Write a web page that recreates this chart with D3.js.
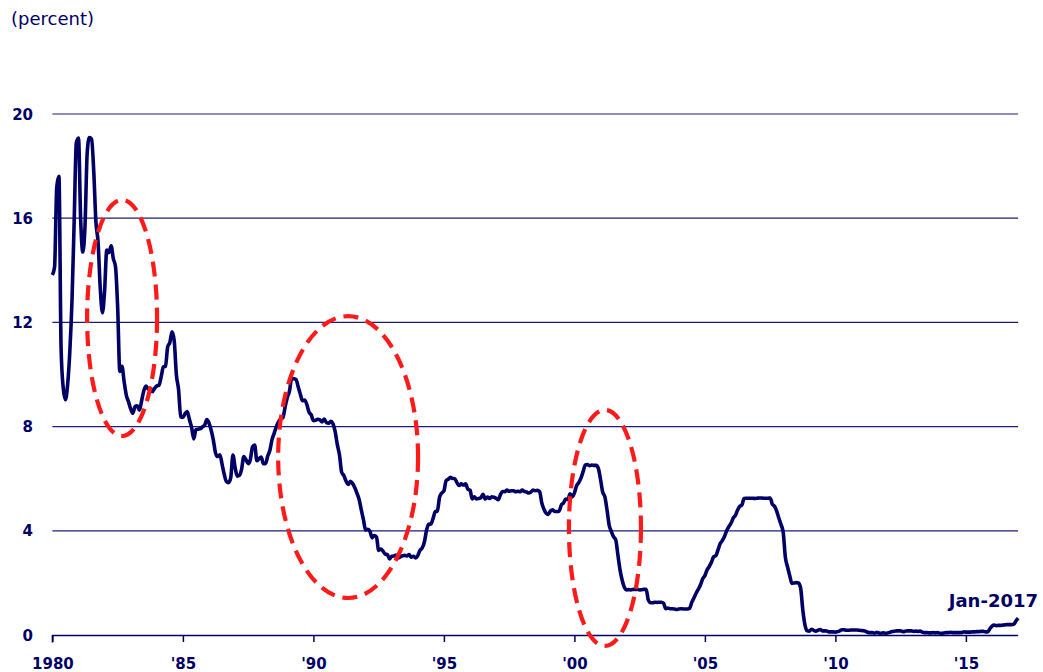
<!DOCTYPE html>
<html>
<head>
<meta charset="utf-8">
<script src="https://cdn.jsdelivr.net/npm/d3@7"></script>
<style>
  body { margin: 0; background: #fff; }
  text { font-family: "DejaVu Sans", Verdana, sans-serif; }
</style>
</head>
<body>
<script>
// effective fed funds rate, monthly, Jan 1980 .. Jan 2017
var rates1980s = [
  13.82,14.13,17.19,17.61,10.98,9.47,9.03,9.61,10.87,12.81,15.85,18.90,
  19.08,15.93,14.70,15.72,18.52,19.10,19.04,17.82,15.87,15.08,13.31,12.37,
  13.22,14.78,14.68,14.94,14.45,14.15,12.59,10.12,10.31,9.71,9.20,8.95,
  8.68,8.51,8.77,8.80,8.63,8.98,9.37,9.56,9.45,9.48,9.34,9.47,
  9.56,9.59,9.91,10.29,10.32,11.06,11.23,11.64,11.30,9.99,9.43,8.38,
  8.35,8.50,8.58,8.27,7.97,7.53,7.88,7.90,7.92,7.99,8.05,8.27,
  8.14,7.86,7.48,6.99,6.85,6.92,6.56,6.17,5.89,5.85,6.04,6.91,
  6.43,6.10,6.13,6.37,6.85,6.73,6.58,6.73,7.22,7.29,6.69,6.77,
  6.83,6.58,6.58,6.87,7.09,7.51,7.75,8.01,8.19,8.30,8.35,8.76,
  9.12,9.36,9.85,9.84,9.81,9.53,9.24,8.99,9.02,8.84,8.55,8.45
];
var rates1990s = [
  8.23,8.24,8.28,8.26,8.18,8.29,8.15,8.13,8.20,8.11,7.81,7.31,
  6.91,6.25,6.12,5.91,5.78,5.90,5.82,5.66,5.45,5.21,4.81,4.43,
  4.03,4.06,3.98,3.73,3.82,3.76,3.25,3.30,3.22,3.10,3.09,2.92,
  3.02,3.03,3.07,2.96,3.00,3.04,3.06,3.03,3.09,2.99,3.02,2.96,
  3.05,3.25,3.34,3.56,4.01,4.25,4.26,4.47,4.73,4.76,5.29,5.45,
  5.53,5.92,5.98,6.05,6.01,6.00,5.85,5.74,5.80,5.76,5.80,5.60,
  5.56,5.22,5.31,5.22,5.24,5.27,5.40,5.22,5.30,5.24,5.31,5.29,
  5.25,5.19,5.39,5.51,5.50,5.56,5.52,5.54,5.54,5.50,5.52,5.50,
  5.56,5.51,5.49,5.45,5.49,5.56,5.54,5.55,5.51,5.07,4.83,4.68,
  4.63,4.76,4.81,4.74,4.74,4.76,4.99,5.07,5.22,5.20,5.42,5.30
];
var rates2000s = [
  5.45,5.73,5.85,6.02,6.27,6.53,6.54,6.50,6.52,6.51,6.51,6.40,
  5.98,5.49,5.31,4.80,4.21,3.97,3.77,3.65,3.07,2.49,2.09,1.82,
  1.73,1.74,1.73,1.75,1.75,1.75,1.73,1.74,1.75,1.75,1.34,1.24,
  1.24,1.26,1.25,1.26,1.26,1.22,1.01,1.03,1.01,1.01,1.00,0.98,
  1.00,1.01,1.00,1.00,1.00,1.03,1.26,1.43,1.61,1.76,1.93,2.16,
  2.28,2.50,2.63,2.79,3.00,3.04,3.26,3.50,3.62,3.78,4.00,4.16,
  4.29,4.49,4.59,4.79,4.94,4.99,5.24,5.25,5.25,5.25,5.25,5.24,
  5.25,5.26,5.26,5.25,5.25,5.25,5.26,5.02,4.94,4.76,4.49,4.24,
  3.94,2.98,2.61,2.28,1.98,2.00,2.01,2.00,1.81,0.97,0.39,0.16,
  0.15,0.22,0.18,0.15,0.18,0.21,0.16,0.16,0.15,0.12,0.12,0.12
];
var rates2010s = [
  0.11,0.13,0.16,0.20,0.20,0.18,0.18,0.19,0.19,0.19,0.19,0.18,
  0.17,0.16,0.14,0.10,0.09,0.09,0.07,0.10,0.08,0.07,0.08,0.07,
  0.08,0.10,0.13,0.14,0.16,0.16,0.16,0.13,0.14,0.16,0.16,0.16,
  0.14,0.15,0.14,0.15,0.11,0.09,0.09,0.08,0.08,0.09,0.08,0.09,
  0.07,0.07,0.08,0.09,0.09,0.10,0.09,0.09,0.09,0.09,0.09,0.12,
  0.11,0.11,0.11,0.12,0.12,0.13,0.13,0.14,0.14,0.12,0.12,0.24,
  0.34,0.38,0.36,0.37,0.37,0.38,0.39,0.40,0.40,0.40,0.41,0.54,
  0.65
];
var yTicks = [0, 4, 8, 12, 16, 20];
var xTickYears = [1980, 1985, 1990, 1995, 2000, 2005, 2010, 2015];
var xTickLabels = ["1980", "'85", "'90", "'95", "'00", "'05", "'10", "'15"];
// highlighted episodes: centre year, centre value, half-width (years), half-height (pct)
var ovalYears = [1982.67, 1991.33, 2001.17];
var ovalValues = [12.17, 6.83, 4.11];
var ovalHalfYears = [1.34, 2.68, 1.38];
var ovalHalfPct = [4.53, 5.41, 4.53];

var navy = "#000066";
var rates = rates1980s.concat(rates1990s, rates2000s, rates2010s);
var series = rates.map(function(v, i) { return {t: 1980 + i / 12, v: v}; });

var svg = d3.select("body").append("svg").attr("width", 1043).attr("height", 672);

var x = d3.scaleLinear().domain([1980, 2017]).range([52.4, 1018.1]);
var y = d3.scaleLinear().domain([0, 20]).range([635, 114]);

// grid
svg.append("g").selectAll("line")
    .data(yTicks.filter(function(d) { return d > 0; }))
    .enter().append("line")
    .attr("x1", x(1980)).attr("x2", x(2017))
    .attr("y1", function(d) { return y(d); })
    .attr("y2", function(d) { return y(d); })
    .attr("stroke", "#1c1c7a").attr("stroke-width", 1.2);

// y labels
svg.append("g").selectAll("text")
    .data(yTicks).enter().append("text")
    .attr("x", 33).attr("y", function(d) { return y(d) + 5.5; })
    .attr("text-anchor", "end")
    .attr("font-size", "15px").attr("font-weight", "bold")
    .attr("fill", navy)
    .text(function(d) { return d; });

// x axis
var xAxis = d3.axisBottom(x)
    .tickValues(xTickYears)
    .tickSize(7)
    .tickFormat(function(d, i) { return xTickLabels[i]; });
var gx = svg.append("g").attr("transform", "translate(0," + y(0) + ")").call(xAxis);
gx.select(".domain").attr("stroke", navy).attr("stroke-width", 1.5)
    .attr("d", "M" + x(1980) + ",0.5V7.5V0.5H" + x(2017));
gx.selectAll(".tick line").attr("stroke", navy).attr("stroke-width", 1.5);
gx.selectAll(".tick text")
    .attr("fill", navy).attr("font-size", "15px").attr("font-weight", "bold")
    .attr("font-family", "DejaVu Sans, Verdana, sans-serif")
    .attr("dy", null).attr("y", 34);

// series line
var line = d3.line()
    .x(function(d) { return x(d.t); })
    .y(function(d) { return y(d.v); })
    .curve(d3.curveMonotoneX);
svg.append("path")
    .datum(series)
    .attr("d", line)
    .attr("fill", "none")
    .attr("stroke", navy)
    .attr("stroke-width", 3.6)
    .attr("stroke-linejoin", "round");

// red dashed ovals
svg.append("g").selectAll("ellipse")
    .data(ovalYears).enter().append("ellipse")
    .attr("cx", function(d) { return x(d); })
    .attr("cy", function(d, i) { return y(ovalValues[i]); })
    .attr("rx", function(d, i) { return x(1980 + ovalHalfYears[i]) - x(1980); })
    .attr("ry", function(d, i) { return y(0) - y(ovalHalfPct[i]); })
    .attr("fill", "none")
    .attr("stroke", "#ff1a1a")
    .attr("stroke-width", 4.2)
    .attr("stroke-dasharray", "15,8");

// labels
svg.append("text")
    .attr("x", 11).attr("y", 25)
    .attr("font-size", "18px").attr("fill", navy)
    .text("(percent)");
svg.append("text")
    .attr("x", 1038).attr("y", 607)
    .attr("text-anchor", "end")
    .attr("font-size", "18px").attr("font-weight", "bold").attr("fill", navy)
    .text("Jan-2017");
</script>
</body>
</html>
